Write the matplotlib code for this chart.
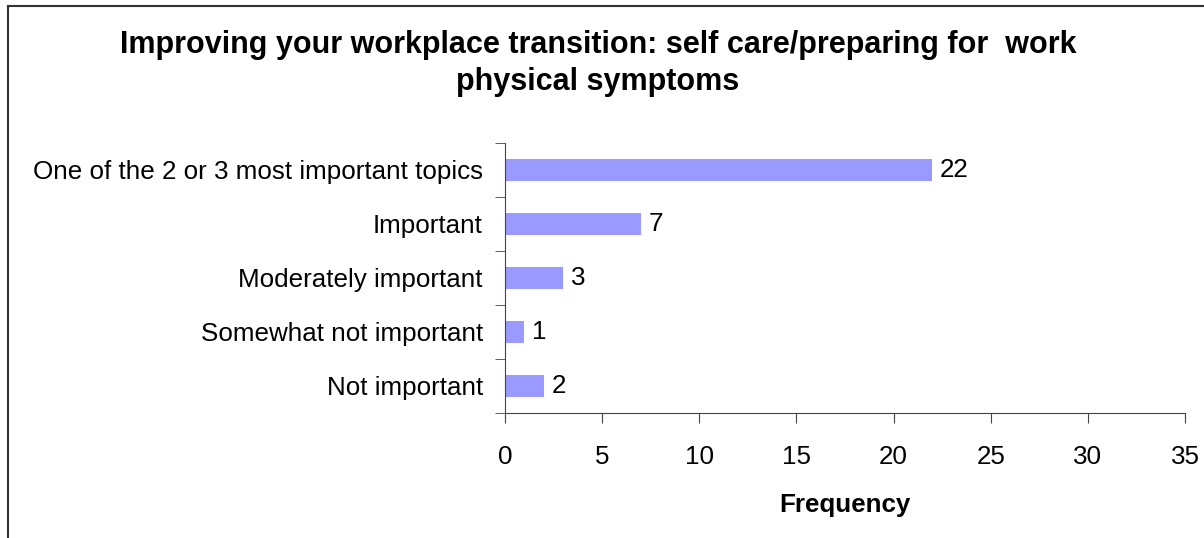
import numpy as np
import matplotlib.pyplot as plt

# data
categories = ['One of the 2 or 3 most important topics', 'Important',
              'Moderately important', 'Somewhat not important', 'Not important']
counts = [22, 7, 3, 1, 2]
xticks = [0, 5, 10, 15, 20, 25, 30, 35]

plt.rcParams['font.family'] = ['Liberation Sans', 'DejaVu Sans']
fs = 18.7

fig = plt.figure(figsize=(12.04, 5.38), dpi=100)
ax = fig.add_axes([505/1204, 1 - 413/538, 680/1204, 270/538])

y = np.arange(len(categories))
ax.barh(y, counts, height=0.4, color='#9999FF')
for yi, c in zip(y, counts):
    ax.text(c + 0.4, yi, str(c), va='center', ha='left', fontsize=fs)

ax.set_xlim(0, 35)
ax.set_ylim(len(categories) - 0.5, -0.5)
ax.set_xticks(xticks)
ax.set_yticks(y)
ax.set_yticklabels(categories)
ax.set_yticks(np.arange(-0.5, len(categories)), minor=True)

ax.tick_params(axis='y', which='major', length=0, pad=16, labelsize=fs)
ax.tick_params(axis='y', which='minor', length=7, direction='out', color='#444444')
ax.tick_params(axis='x', length=7, direction='out', color='#444444', pad=16, labelsize=fs)

for s in ['top', 'right']:
    ax.spines[s].set_visible(False)
for s in ['left', 'bottom']:
    ax.spines[s].set_color('#444444')

ax.set_xlabel('Frequency', fontsize=fs, fontweight='bold', labelpad=17)

fig.text(598/1204, 1 - 45/538, 'Improving your workplace transition: self care/preparing for  work',
         ha='center', va='center', fontsize=22, fontweight='bold')
fig.text(598/1204, 1 - 82/538, 'physical symptoms',
         ha='center', va='center', fontsize=22, fontweight='bold')

# chart-area border (top and left edges visible)
fig.add_artist(plt.Line2D([7.5/1204, 1], [1 - 5.5/538, 1 - 5.5/538], color='#333333', lw=1.5))
fig.add_artist(plt.Line2D([7.5/1204, 7.5/1204], [0, 1 - 5.5/538], color='#333333', lw=1.5))

fig.savefig('out.png', dpi=100)
